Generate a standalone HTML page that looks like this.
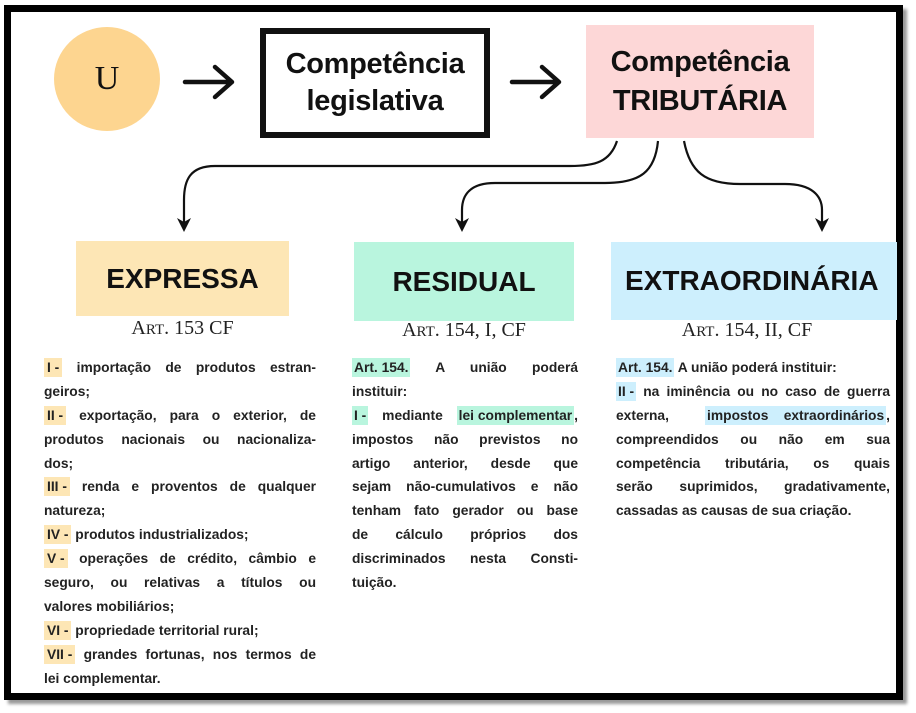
<!DOCTYPE html>
<html><head><meta charset="utf-8"><style>
*{margin:0;padding:0;box-sizing:border-box}
body{width:916px;height:713px;background:#fff;position:relative;overflow:hidden;font-family:"Liberation Sans",sans-serif;color:#111}
.frame{position:absolute;left:4px;top:5px;width:899px;height:695px;border:7px solid #000;box-shadow:4px 4px 3px #999}
.abs{position:absolute}
.t{font-weight:bold}
.cat{position:absolute;display:flex;align-items:center;justify-content:center;font-weight:bold;font-size:28px;color:#111}
.art{position:absolute;font-family:"Liberation Serif",serif;font-size:20px;text-align:center;color:#222}
.art small{font-size:15px}
.col{position:absolute;font-size:13.8px;font-weight:bold;color:#222}
.col div{height:23.9px;line-height:23.9px;white-space:nowrap}
.col div.j{text-align:justify;text-align-last:justify}
.y,.g,.b{display:inline-block;line-height:19px}
.y{background:#fde6b5;padding:0 3px}
.g{background:#b9f5de;padding:0 2px}
.b{background:#cdeffd;padding:0 2px}
</style></head><body>
<div class="frame"></div>
<div class="abs" style="left:54px;top:27px;width:106px;height:104px;border-radius:50%;background:#fdd590;display:flex;align-items:center;justify-content:center;font-family:'Liberation Serif',serif;font-size:34px">U</div>
<svg class="abs" style="left:0;top:0" width="916" height="713">
<g stroke="#111" stroke-width="4.5" fill="none" stroke-linecap="round" stroke-linejoin="round">
<path d="M185 82 H231 M215 67 L232 82 L215 97"/>
<path d="M512 82 H558 M542 67 L559 82 L542 97"/>
</g>
<g stroke="#111" stroke-width="2.2" fill="none">
<path d="M617 141 C610 162 595 166 570 166 H215 C190 166 184 180 184 200 V228"/>
<path d="M658 141 C655 172 640 183 605 183 H495 C470 183 462 195 462 210 V228"/>
<path d="M684 141 C690 172 705 184 740 184 H785 C812 184 822 196 822 210 V228"/>
</g>
<g fill="#111">
<path d="M177 218 L184 232 L191 218 L184 222Z"/>
<path d="M455 218 L462 232 L469 218 L462 222Z"/>
<path d="M815 218 L822 232 L829 218 L822 222Z"/>
</g>
</svg>
<div class="abs t" style="left:260px;top:28px;width:230px;height:110px;border:6px solid #111;display:flex;align-items:center;justify-content:center;text-align:center;font-size:29px;line-height:37px;letter-spacing:-0.3px">Competência<br>legislativa</div>
<div class="abs t" style="left:586px;top:25px;width:228px;height:113px;background:#fdd7d7;display:flex;align-items:center;justify-content:center;text-align:center;font-size:29px;line-height:39px;letter-spacing:-0.3px">Competência<br>TRIBUTÁRIA</div>
<div class="cat" style="left:76px;top:241px;width:213px;height:75px;background:#fde6b5">EXPRESSA</div>
<div class="cat" style="left:354px;top:242px;width:220px;height:79px;background:#b9f5de">RESIDUAL</div>
<div class="cat" style="left:611px;top:242px;width:286px;height:78px;background:#cdeffd;justify-content:flex-start;padding-left:14px">EXTRAORDINÁRIA</div>
<div class="art" style="left:76px;top:317px;width:213px">A<small>RT</small>. 153 CF</div>
<div class="art" style="left:354px;top:319px;width:220px">A<small>RT</small>. 154, I, CF</div>
<div class="art" style="left:611px;top:319px;width:286px;padding-right:14px">A<small>RT</small>. 154, II, CF</div>

<div class="col" style="left:44px;top:356px;width:272px">
<div class="j"><span class="y">I -</span> importação de produtos estran-</div>
<div>geiros;</div>
<div class="j"><span class="y">II -</span> exportação, para o exterior, de</div>
<div class="j">produtos nacionais ou nacionaliza-</div>
<div>dos;</div>
<div class="j"><span class="y">III -</span> renda e proventos de qualquer</div>
<div>natureza;</div>
<div><span class="y">IV -</span> produtos industrializados;</div>
<div class="j"><span class="y">V -</span> operações de crédito, câmbio e</div>
<div class="j">seguro, ou relativas a títulos ou</div>
<div>valores mobiliários;</div>
<div><span class="y">VI -</span> propriedade territorial rural;</div>
<div class="j"><span class="y">VII -</span> grandes fortunas, nos termos de</div>
<div>lei complementar.</div>
</div>

<div class="col" style="left:352px;top:356px;width:226px">
<div class="j"><span class="g">Art. 154.</span> A união poderá</div>
<div>instituir:</div>
<div class="j"><span class="g">I -</span> mediante <span class="g">lei complementar</span>,</div>
<div class="j">impostos não previstos no</div>
<div class="j">artigo anterior, desde que</div>
<div class="j">sejam não-cumulativos e não</div>
<div class="j">tenham fato gerador ou base</div>
<div class="j">de cálculo próprios dos</div>
<div class="j">discriminados nesta Consti-</div>
<div>tuição.</div>
</div>

<div class="col" style="left:616px;top:356px;width:274px">
<div><span class="b">Art. 154.</span> A união poderá instituir:</div>
<div class="j"><span class="b">II -</span> na iminência ou no caso de guerra</div>
<div class="j">externa, <span class="b">impostos&nbsp;&nbsp;&nbsp; extraordinários</span>,</div>
<div class="j">compreendidos ou não em sua</div>
<div class="j">competência tributária, os quais</div>
<div class="j">serão suprimidos, gradativamente,</div>
<div>cassadas as causas de sua criação.</div>
</div>
</body></html>
